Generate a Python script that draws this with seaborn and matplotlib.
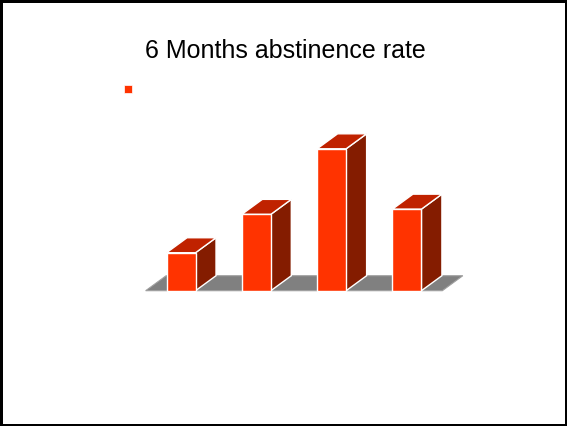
import matplotlib
matplotlib.use("Agg")
import matplotlib.pyplot as plt
from matplotlib.patches import Polygon, Patch
import seaborn as sns
import pandas as pd

# Data (no axis shown in the original)
categories = ["Group 1", "Group 2", "Group 3", "Group 4"]
values = [9.5, 19.1, 35.5, 20.4]
title = "6 Months abstinence rate"

front_color = "#FF3300"
top_color = "#C02200"
side_color = "#841C00"
floor_color = "#808080"

sns.set_theme(style="white")
plt.rcParams["font.family"] = ["Liberation Sans", "DejaVu Sans"]

fig = plt.figure(figsize=(5.67, 4.26), dpi=100)
fig.patch.set_facecolor("white")
fig.patch.set_edgecolor("black")
fig.patch.set_linewidth(2.2)

ax = fig.add_axes([0.2529, 0.3176, 0.5312, 0.4007])
df = pd.DataFrame({"cat": categories, "val": values})
sns.barplot(data=df, x="cat", y="val", color=front_color, saturation=1,
            width=0.385, edgecolor="white", linewidth=1.0, ax=ax, zorder=3)

ax.set_xlim(-0.5, 3.5)
ax.set_ylim(0, 42.7)

dx, dy = 0.272, 3.75

# floor
x_lo, x_hi = -0.47, 3.47
floor = Polygon([(x_lo, 0), (x_hi, 0), (x_hi + dx, dy), (x_lo + dx, dy)],
                closed=True, facecolor=floor_color, edgecolor="#a0a0a0",
                linewidth=0.8, zorder=1, clip_on=False)
ax.add_patch(floor)

bars = [p for p in ax.patches if p is not floor]
for p in bars:
    x0, w, h = p.get_x(), p.get_width(), p.get_height()
    top = Polygon([(x0, h), (x0 + w, h), (x0 + w + dx, h + dy), (x0 + dx, h + dy)],
                  closed=True, facecolor=top_color, edgecolor="white",
                  linewidth=1.0, zorder=2, clip_on=False)
    side = Polygon([(x0 + w, 0), (x0 + w + dx, dy), (x0 + w + dx, h + dy), (x0 + w, h)],
                   closed=True, facecolor=side_color, edgecolor="white",
                   linewidth=1.0, zorder=2, clip_on=False)
    ax.add_patch(side)
    ax.add_patch(top)
    p.set_clip_on(False)

ax.axis("off")

fig.text(0.504, 0.881, title, ha="center", va="center", fontsize=18, color="black")

fig.legend(handles=[Patch(facecolor=front_color, edgecolor="white", linewidth=0.5)],
           labels=[""], loc="center left", bbox_to_anchor=(0.205, 0.788),
           frameon=False, handlelength=0.55, handleheight=0.5,
           borderpad=0, handletextpad=0)

fig.savefig("out.png", dpi=100, facecolor="white", edgecolor="black")
